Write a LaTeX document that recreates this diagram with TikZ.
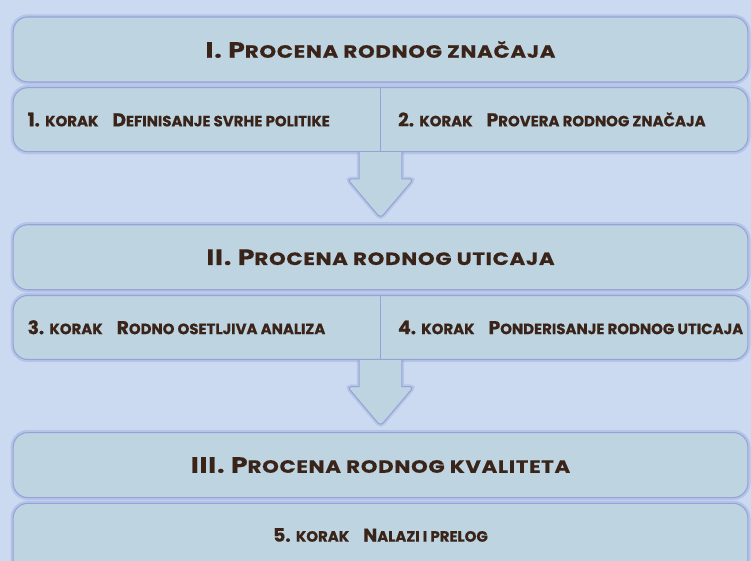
\documentclass[tikz,border=0pt]{standalone}
\usepackage{fontspec}
\setmainfont{Poppins}[BoldFeatures={FakeBold=0.6}]
\newfontfamily\phasefont{Poppins}[FakeStretch=1.2, LetterSpace=4, BoldFeatures={FakeBold=0.6}]
\usepackage{relsize}
\usetikzlibrary{positioning}
\usetikzlibrary{calc}
\definecolor{pagebg}{RGB}{204, 218, 241}
\definecolor{boxfill}{RGB}{190, 213, 225}
\definecolor{boxedge}{RGB}{148, 163, 216}
\definecolor{inkbrown}{RGB}{58, 35, 24}
\newcommand{\lowcaps}[1]{{\relscale{0.8}#1}}
\tikzstyle{phasebox} = [
	draw=boxedge,
	line width=0.8pt,
	fill=boxfill,
	rounded corners=11pt,
	minimum width=551pt,
	minimum height=48.75pt,
	inner sep=0pt,
	text=inkbrown,
	font=\phasefont\bfseries\fontsize{16.6}{19}\selectfont,
	preaction={draw=boxedge, line width=4pt, opacity=0.4}
]
\tikzstyle{steprow} = [
	phasebox,
	minimum height=48pt
]
\tikzstyle{steptext} = [
	inner sep=0pt,
	text=inkbrown,
	text height=10pt,
	text depth=0pt,
	font=\bfseries\fontsize{14}{16}\selectfont
]
\tikzstyle{divider} = [
	draw=boxedge,
	line width=1.2pt
]
\tikzstyle{flowarrow} = [
	draw=boxedge,
	line width=0.8pt,
	fill=boxfill,
	preaction={draw=boxedge, line width=3.5pt, opacity=0.35}
]
\begin{document}
\begin{tikzpicture}[node distance=3.5pt and 0pt]
	\path[use as bounding box, fill=pagebg] (0,0) rectangle (563.25pt,-420.75pt);
	
	%
	% Phase boxes and step rows
	
	% Phase I
	\node[phasebox] (P1) at (285.4pt,-37.1pt) {I. P\lowcaps{ROCENA RODNOG ZNAČAJA}};
	\node[steprow, below=of P1] (R1) {};
	\draw[divider] (R1.north) -- (R1.south);
	\node[steptext, anchor=west, right=11pt of R1.west] (S1) {1. \lowcaps{KORAK}\hspace{0.75em}D\lowcaps{EFINISANJE SVRHE POLITIKE}};
	\node[steptext, anchor=west, right=13pt of R1.center] (S2) {2. \lowcaps{KORAK}\hspace{0.75em}P\lowcaps{ROVERA RODNOG ZNAČAJA}};
	
	% Phase II
	\node[phasebox, below=54pt of R1] (P2) {II. P\lowcaps{ROCENA RODNOG UTICAJA}};
	\node[steprow, below=of P2] (R2) {};
	\draw[divider] (R2.north) -- (R2.south);
	\node[steptext, anchor=west, right=11pt of R2.west] (S3) {3. \lowcaps{KORAK}\hspace{0.75em}R\lowcaps{ODNO OSETLJIVA ANALIZA}};
	\node[steptext, anchor=west, right=13pt of R2.center] (S4) {4. \lowcaps{KORAK}\hspace{0.75em}P\lowcaps{ONDERISANJE RODNOG UTICAJA}};
	
	% Phase III
	\node[phasebox, below=54pt of R2] (P3) {III. P\lowcaps{ROCENA RODNOG KVALITETA}};
	\node[steprow, minimum height=60pt, below=of P3] (R3) {};
	\node[steptext, below=19pt of R3.north] (S5) {5. \lowcaps{KORAK}\hspace{0.75em}N\lowcaps{ALAZI I PRELOG}};
	
	%
	% Arrows between phases
	\draw[flowarrow] ($(R1.south)+(-16pt,0)$) -- ++(0,-20pt)
		[rounded corners=3pt] -- ++(-9pt,0) -- ($(P2.north)+(0,4.5pt)$) -- ($(R1.south)+(25pt,-20pt)$)
		[sharp corners] -- ++(-9pt,0) -- ($(R1.south)+(16pt,0)$);
	\draw[flowarrow] ($(R2.south)+(-16pt,0)$) -- ++(0,-20pt)
		[rounded corners=3pt] -- ++(-9pt,0) -- ($(P3.north)+(0,4.5pt)$) -- ($(R2.south)+(25pt,-20pt)$)
		[sharp corners] -- ++(-9pt,0) -- ($(R2.south)+(16pt,0)$);
		
\end{tikzpicture}
\end{document}
